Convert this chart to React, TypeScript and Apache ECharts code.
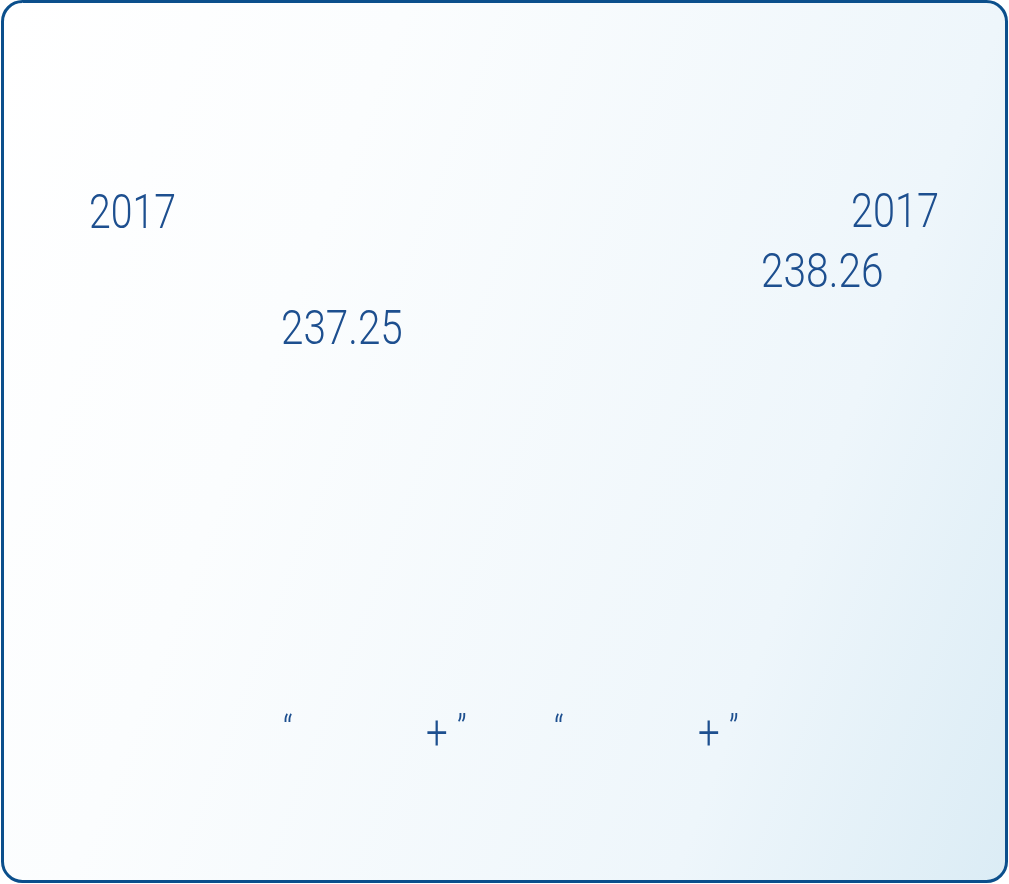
import { useEffect, useRef } from "react";
import * as echarts from "echarts";

// Visible content of the reference (other glyphs are not rendered in it)
const yearLabels = ["2017", "2017"];
const valueLabels = [237.25, 238.26];
const openQuotes = ["“", "“"];
const plusSigns = ["+", "+"];
const closeQuotes = ["”", "”"];

const FONT = "Roboto, 'Liberation Sans Narrow', sans-serif";
const COLOR = "#1d4f8f";

export default function App() {
  const ref = useRef<HTMLDivElement>(null);
  useEffect(() => {
    if (!ref.current) return;
    const chart = echarts.init(ref.current, undefined, { renderer: "svg" });
    const txt = (text: string, x: number, y: number, size: number, sx: number) => ({
      type: "text",
      x,
      y,
      scaleX: sx,
      style: {
        text,
        fill: COLOR,
        font: `300 ${size}px ${FONT}`,
        textAlign: "left",
        textVerticalAlign: "middle",
      },
    });
    const tagX = [
      [283, 426, 457],
      [554, 698, 729],
    ];
    const elements: any[] = [
      {
        type: "rect",
        shape: { x: 2.5, y: 1.5, width: 1004, height: 880, r: 20 },
        style: {
          fill: new echarts.graphic.LinearGradient(0, 0, 1.2, 0.4, [
            { offset: 0, color: "#ffffff" },
            { offset: 0.3, color: "#fbfdfe" },
            { offset: 0.75, color: "#eef6fb" },
            { offset: 1, color: "#dbecf5" },
          ]),
          stroke: "#0b4f8c",
          lineWidth: 3,
        },
      },
      txt(yearLabels[0], 89, 211, 49, 0.8),
      txt(yearLabels[1], 851, 211, 49, 0.81),
      txt(valueLabels[1].toFixed(2), 761, 270, 49, 0.83),
      txt(valueLabels[0].toFixed(2), 281, 327, 49, 0.825),
    ];
    for (let i = 0; i < 2; i++) {
      elements.push(txt(openQuotes[i], tagX[i][0], 730, 40, 0.8));
      elements.push(txt(plusSigns[i], tagX[i][1], 733, 48, 0.8));
      elements.push(txt(closeQuotes[i], tagX[i][2], 730, 40, 0.8));
    }
    chart.setOption({
      animation: false,
      graphic: { elements },
    });
    return () => chart.dispose();
  }, []);
  return (
    <div
      ref={ref}
      style={{ position: "fixed", left: 0, top: 0, width: 1009, height: 884 }}
    />
  );
}
